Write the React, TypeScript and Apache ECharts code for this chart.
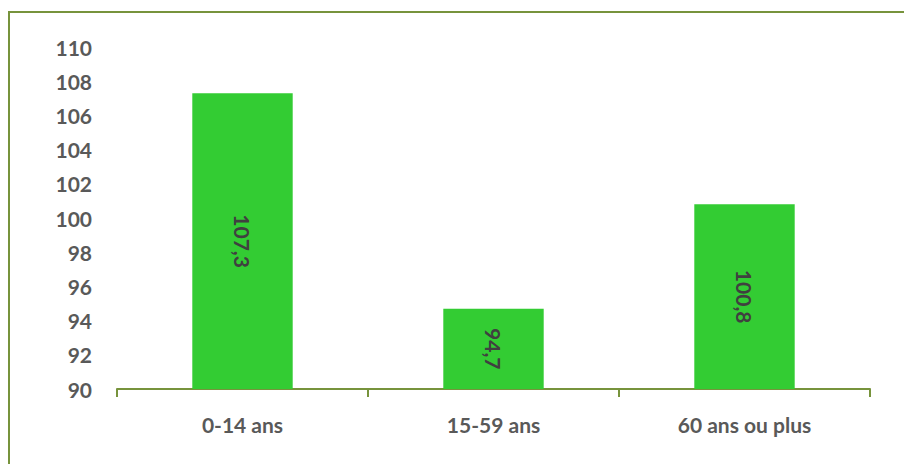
import React, { useEffect, useRef } from "react";
import * as echarts from "echarts";

const categories = ["0-14 ans", "15-59 ans", "60 ans ou plus"];
const values = [107.3, 94.7, 100.8];
const yMin = 90;
const yMax = 110;
const yStep = 2;

export default function App() {
  const ref = useRef<HTMLDivElement>(null);
  useEffect(() => {
    document.body.style.margin = "0";
    if (!ref.current) return;
    const chart = echarts.init(ref.current, undefined, { renderer: "svg" });
    const font = "Lato, 'Open Sans', sans-serif";
    chart.setOption({
      animation: false,
      backgroundColor: "#ffffff",
      graphic: [
        {
          type: "rect",
          shape: { x: 9, y: 12, width: 1000, height: 600 },
          style: { fill: "none", stroke: "#77933C", lineWidth: 2 },
          silent: true,
        },
      ],
      grid: { left: 117, right: 34, top: 47, bottom: 75 },
      xAxis: {
        type: "category",
        data: categories,
        boundaryGap: true,
        axisLine: { show: true, lineStyle: { color: "#77933C", width: 2 } },
        axisTick: { show: true, length: 8, alignWithLabel: false, lineStyle: { color: "#77933C", width: 2 } },
        axisLabel: { color: "#595959", fontSize: 21, fontWeight: "bold", fontFamily: font, margin: 25 },
      },
      yAxis: {
        type: "value",
        min: yMin,
        max: yMax,
        interval: yStep,
        axisLine: { show: false },
        axisTick: { show: false },
        splitLine: { show: false },
        axisLabel: { color: "#595959", fontSize: 21, fontWeight: "bold", fontFamily: font, margin: 25 },
      },
      series: [
        {
          type: "bar",
          data: values,
          barWidth: "40%",
          itemStyle: { color: "#33CC33" },
          label: {
            show: true,
            position: "inside",
            rotate: -90,
            color: "#404040",
            fontSize: 21,
            fontWeight: "bold",
            fontFamily: font,
            formatter: (p: any) => String(p.value).replace(".", ","),
          },
        },
      ],
    });
    return () => chart.dispose();
  }, []);
  return <div ref={ref} style={{ width: 904, height: 464 }} />;
}
